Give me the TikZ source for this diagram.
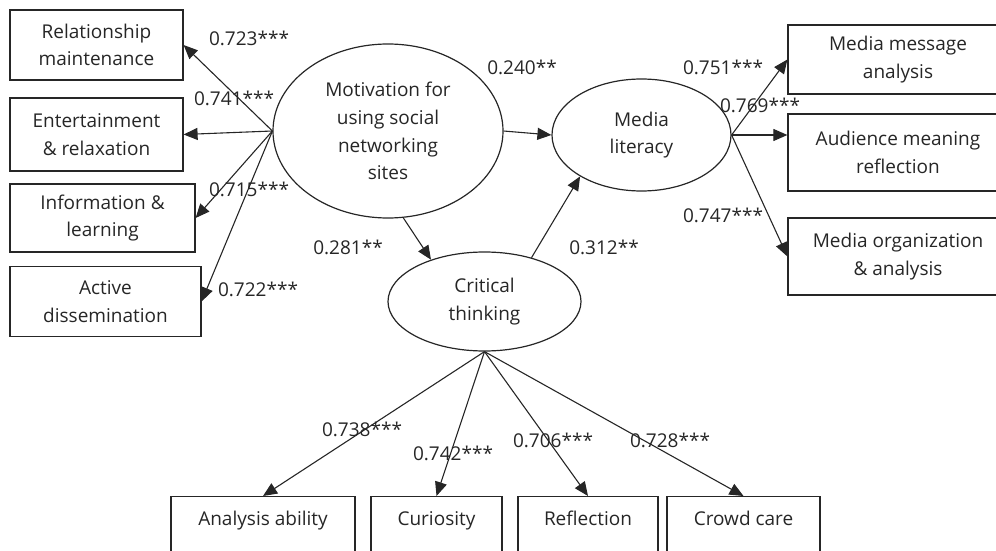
\documentclass[tikz,border=0pt]{standalone}
\usepackage{fontspec}
\setmainfont{Open Sans}
\usetikzlibrary{arrows.meta,shapes.geometric}

\begin{document}
\begin{tikzpicture}[x=1pt,y=-1pt,
    every node/.style={font=\fontsize{19}{27.7}\selectfont, text=black!85},
    obs/.style={draw=black!85, line width=1.2pt, align=center, inner sep=0pt},
    bottombox/.style={obs, anchor=north, text height=14, text depth=40, inner ysep=15},
    latent/.style={draw=black!85, ellipse, line width=1.2pt, align=center, inner sep=0pt},
    coef/.style={inner sep=0pt},
    path/.style={draw=black!85, line width=1.1pt, -{Triangle[length=14pt,width=12pt]}}]
  \useasboundingbox (0,0) rectangle (996,551);
  \clip (0,0) rectangle (996,551);

  % latent variables
  \node[latent, minimum width=230, minimum height=174] (mot) at (388,131) {Motivation for\\using social\\networking\\sites};
  \node[latent, minimum width=179, minimum height=112] (lit) at (641.5,135) {Media\\literacy};
  \node[latent, minimum width=193, minimum height=99] (crit) at (484.5,301.5) {Critical\\thinking};

  % indicators of motivation
  \node[obs, minimum width=173, minimum height=70] (rel) at (96.5,45) {Relationship\\maintenance};
  \node[obs, minimum width=173, minimum height=73] (ent) at (96.5,134.5) {Entertainment\\\& relaxation};
  \node[obs, minimum width=185, minimum height=68] (inf) at (102.5,218) {Information \&\\learning};
  \node[obs, minimum width=191, minimum height=70] (act) at (105.5,301.5) {Active\\dissemination};

  % indicators of media literacy
  \node[obs, minimum width=220, minimum height=69] (msg) at (898,59.5) {Media message\\analysis};
  \node[obs, minimum width=220, minimum height=77] (aud) at (898,152.5) {Audience meaning\\reflection};
  \node[obs, minimum width=220, minimum height=77] (org) at (898,256.5) {Media organization\\\& analysis};

  % indicators of critical thinking
  \node[bottombox, minimum width=184] (ana) at (263,496) {Analysis ability};
  \node[bottombox, minimum width=131] (cur) at (436.5,496) {Curiosity};
  \node[bottombox, minimum width=140] (refl) at (588,496) {Reflection};
  \node[bottombox, minimum width=153] (crowd) at (743.5,496) {Crowd care};

  % paths
  \draw[path] (mot.west) -- (rel.east);
  \draw[path] (mot.west) -- (ent.east);
  \draw[path] (mot.west) -- (inf.east);
  \draw[path] (mot.west) -- (act.east);
  \draw[path] (mot.east) -- (lit.west);
  \draw[path] (mot.-80) -- (crit.142);
  \draw[path] (crit.43) -- (lit.214.5);
  \draw[path] (lit.east) -- (msg.west);
  \draw[path] (lit.east) -- (lit.east -| aud.west);
  \draw[path] (lit.east) -- (org.west);
  \draw[path] (crit.south) -- (ana.north);
  \draw[path] (crit.south) -- (cur.north);
  \draw[path] (crit.south) -- (refl.north);
  \draw[path] (crit.south) -- (crowd.north);

  % coefficients
  \node[coef] (c-rel) at (249,38) {0.723***};
  \node[coef] (c-ent) at (234,98) {0.741***};
  \node[coef] (c-inf) at (249,189) {0.715***};
  \node[coef] (c-act) at (258,289) {0.722***};
  \node[coef] (c-mot) at (522,67) {0.240**};
  \node[coef] (c-msg) at (723,67) {0.751***};
  \node[coef] (c-aud) at (760,105) {0.769***};
  \node[coef] (c-org) at (723,215) {0.747***};
  \node[coef] (c-crit) at (348,247) {0.281**};
  \node[coef] (c-lit) at (604,247) {0.312**};
  \node[coef] (c-ana) at (362,429) {0.738***};
  \node[coef] (c-cur) at (453,453) {0.742***};
  \node[coef] (c-refl) at (553,440) {0.706***};
  \node[coef] (c-crowd) at (670,440) {0.728***};
\end{tikzpicture}
\end{document}
